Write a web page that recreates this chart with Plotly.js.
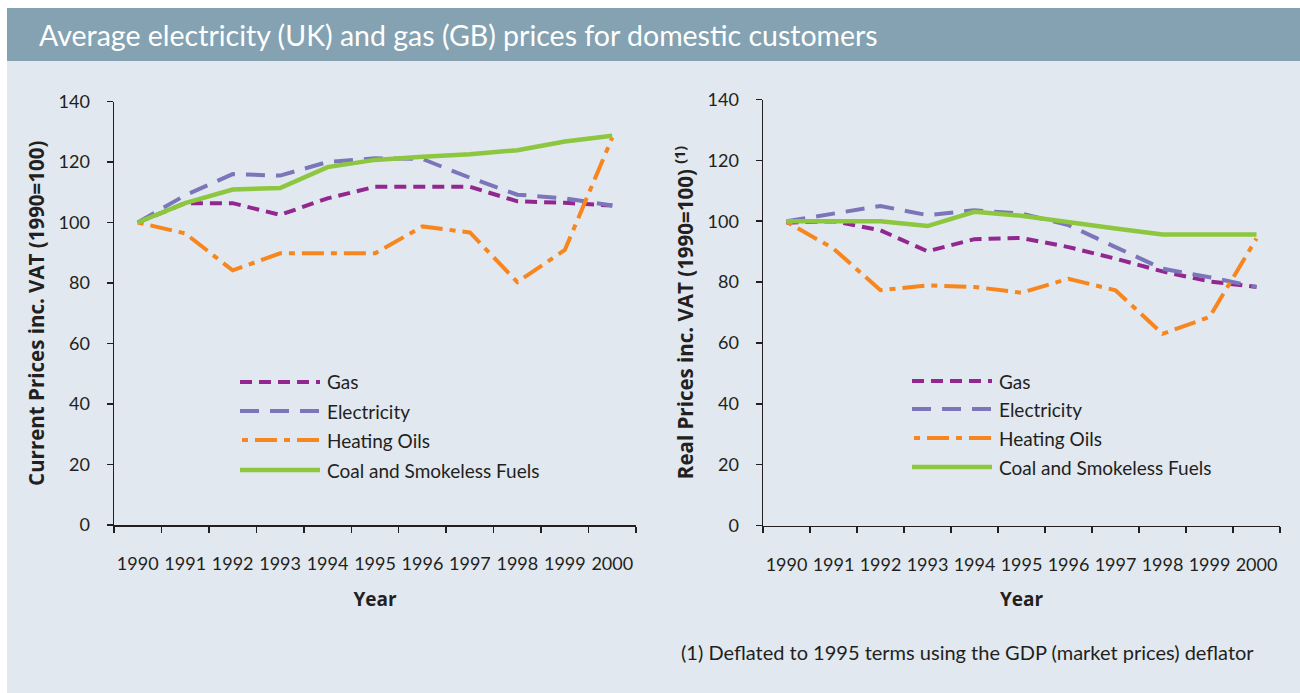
<!DOCTYPE html>
<html>
<head>
<meta charset="utf-8">
<script src="https://cdn.plot.ly/plotly-3.0.1.min.js"></script>
<style>
html,body{margin:0;padding:0;background:#ffffff;}
#chart{width:1300px;height:693px;}
</style>
</head>
<body>
<div id="chart"></div>
<script>
// ---- data ----
var years = ['1990','1991','1992','1993','1994','1995','1996','1997','1998','1999','2000'];
var seriesNames = ['Gas','Electricity','Heating Oils','Coal and Smokeless Fuels'];

var currentGas  = [100, 106.4, 106.4, 102.5, 108.0, 111.8, 111.8, 111.8, 107.0, 106.5, 105.6];
var currentElec = [100, 109.0, 116.0, 115.5, 120.0, 121.2, 121.0, 114.8, 109.2, 108.0, 105.6];
var currentOil  = [100,  96.4,  84.2,  89.8,  89.8,  89.8,  98.7,  96.7,  80.3,  90.9, 128.1];
var currentCoal = [100, 106.4, 110.9, 111.4, 118.3, 120.7, 121.7, 122.6, 123.9, 126.8, 128.7];

var realGas  = [99.5, 100.0,  97.0,  90.1,  94.1,  94.5,  91.5,  87.7,  83.5,  80.2,  78.4];
var realElec = [100, 102.5, 105.0, 102.0, 103.6, 102.5,  98.7,  91.5,  84.4,  81.6,  78.4];
var realOil  = [99.8, 91.0,  77.3,  78.9,  78.4,  76.5,  81.1,  77.3,  63.0,  68.5,  94.3];
var realCoal = [100, 100.0, 100.0,  98.4, 103.1, 101.8,  99.6,  97.6,  95.6,  95.6,  95.6];

var yTicks = [0,20,40,60,80,100,120,140];

// ---- styles ----
var W = 1300, H = 693;
function px(x){ return x / W; }
function py(y){ return 1 - y / H; }
var FONT = 'Lato, "Open Sans", sans-serif';
var BOLDFONT = '"Open Sans", Lato, sans-serif';
var INK = '#231f20';
var styles = [
  {color:'#92278f', dash:'12px,7px', width:4},
  {color:'#7b76b9', dash:'19px,11px', width:4},
  {color:'#f7861f', dash:'6px,7px,22px,7px', width:4},
  {color:'#8dc63f', dash:'solid', width:4.5}
];

var currentSets = [currentGas, currentElec, currentOil, currentCoal];
var realSets = [realGas, realElec, realOil, realCoal];

var traces = [];
function addTraces(sets, xa, ya){
  sets.forEach(function(vals, i){
    traces.push({
      type:'scatter', mode:'lines', x:years, y:vals, xaxis:xa, yaxis:ya,
      name:seriesNames[i], showlegend:false, hoverinfo:'x+y+name',
      line:{color:styles[i].color, dash:styles[i].dash, width:styles[i].width}
    });
  });
}
addTraces(currentSets, 'x', 'y');
addTraces(realSets, 'x2', 'y2');

function xAxis(domain, anchor){
  return {
    domain:domain, anchor:anchor, type:'category', range:[-0.5, 10.5],
    tickson:'boundaries', ticks:'outside', ticklen:6, tickwidth:1.5, tickcolor:INK,
    showline:true, linecolor:INK, linewidth:1.5, showgrid:false, zeroline:false,
    tickangle:0, tickfont:{family:FONT, size:18, color:INK}, ticklabelstandoff:22,
    title:{text:'Year', font:{family:BOLDFONT, size:19, color:INK, weight:700}, standoff:19},
    fixedrange:true
  };
}
function yAxis(domain, anchor, title){
  return {
    domain:domain, anchor:anchor, range:[0,140], tickvals:yTicks, ticktext:yTicks.map(String),
    ticks:'outside', ticklen:6, tickwidth:1.5, tickcolor:INK,
    showline:true, linecolor:INK, linewidth:1.5, showgrid:false, zeroline:false,
    tickfont:{family:FONT, size:18, color:INK}, ticklabelstandoff:13,
    title:{text:title, font:{family:BOLDFONT, size:20.5, color:INK, weight:700}, standoff:8},
    fixedrange:true
  };
}

var shapes = [
  // panel background
  {type:'rect', xref:'paper', yref:'paper', x0:px(7), x1:1, y0:0, y1:py(8), fillcolor:'#e1e8ef', line:{width:0}, layer:'below'},
  // title bar
  {type:'rect', xref:'paper', yref:'paper', x0:px(7), x1:1, y0:py(61), y1:py(8), fillcolor:'#84a2b2', line:{width:0}, layer:'below'}
];
var annotations = [
  {xref:'paper', yref:'paper', x:px(37), y:py(35), xanchor:'left', yanchor:'middle', showarrow:false,
   text:'Average electricity (UK) and gas (GB) prices for domestic customers',
   font:{family:FONT, size:28.5, color:'#ffffff'}},
  {xref:'paper', yref:'paper', x:px(679), y:py(652), xanchor:'left', yanchor:'middle', showarrow:false,
   text:'(1) Deflated to 1995 terms using the GDP (market prices) deflator',
   font:{family:FONT, size:20, color:INK}}
];

// custom legends
function addLegend(x0, x1, ys){
  seriesNames.forEach(function(name, i){
    var start = (i === 2) ? x0 + 2 : x0;
    shapes.push({type:'line', xref:'paper', yref:'paper', x0:px(start), x1:px(x1), y0:py(ys[i]), y1:py(ys[i]),
      line:{color:styles[i].color, dash:styles[i].dash, width:styles[i].width}});
    annotations.push({xref:'paper', yref:'paper', x:px(x1 + 5), y:py(ys[i]), xanchor:'left', yanchor:'middle',
      showarrow:false, text:name, font:{family:FONT, size:19, color:INK}});
  });
}
addLegend(240, 320, [382, 411, 440, 470]);
addLegend(912, 992, [381, 409, 438, 467]);

var layout = {
  width:W, height:H, margin:{l:0, r:0, t:0, b:0},
  paper_bgcolor:'#ffffff', plot_bgcolor:'rgba(0,0,0,0)',
  showlegend:false,
  xaxis: xAxis([px(114), px(636)], 'y'),
  yaxis: yAxis([py(525), py(101.5)], 'x', 'Current Prices inc. VAT (1990=100)'),
  xaxis2: xAxis([px(763), px(1280)], 'y2'),
  yaxis2: yAxis([py(525.5), py(99.5)], 'x2', 'Real Prices inc. VAT (1990=100) <sup>(1)</sup>'),
  shapes:shapes, annotations:annotations
};

Plotly.newPlot('chart', traces, layout, {displayModeBar:false, staticPlot:true});
</script>
</body>
</html>
